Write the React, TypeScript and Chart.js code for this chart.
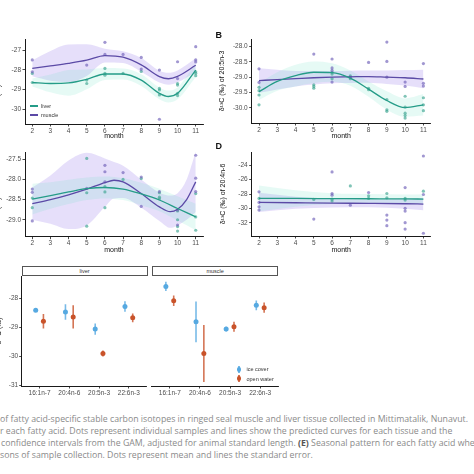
import React, { useEffect, useRef } from 'react';
import { Chart, registerables } from 'chart.js';

Chart.register(...registerables);

// ---------------- data ----------------
const MONTH_TICKS = [2, 3, 4, 5, 6, 7, 8, 9, 10, 11];

// Panel A (16:1n-7)
const monthsA = [2, 3, 4, 5, 6, 7, 8, 9, 9.5, 10, 11];
const muscleA = [-27.93, -27.8, -27.67, -27.51, -27.28, -27.36, -27.75, -28.34, -28.45, -28.33, -27.77];
const muscleBandA = [0.4, 0.75, 0.95, 0.8, 0.35, 0.3, 0.35, 0.3, 0.3, 0.3, 0.35];
const liverA = [-28.64, -28.69, -28.66, -28.48, -28.21, -28.21, -28.52, -29.19, -29.35, -29.19, -28.01];
const liverBandA = [0.2, 0.45, 0.65, 0.5, 0.3, 0.28, 0.3, 0.3, 0.3, 0.3, 0.35];
const muscleDotsA = [[2, -27.5], [2, -28.1], [5, -27.76], [6, -26.61], [6, -27.22], [7, -27.22], [8, -27.37], [8, -27.96], [9, -28.01], [9, -30.5], [10, -27.59], [10, -28.44], [11, -26.83], [11, -27.5], [11, -27.6]];
const liverDotsA = [[2, -28.18], [2, -28.64], [5, -28.52], [5, -28.69], [6, -27.93], [6, -28.18], [6, -28.27], [7, -28.18], [8, -28.08], [9, -28.94], [9, -29.02], [9, -29.27], [10, -28.69], [10, -28.77], [10, -29.19], [10, -29.3], [11, -28.1], [11, -28.18], [11, -28.3]];
const yTicksA = [-27, -28, -29, -30];

// Panel B (20:5n-3)
const monthsB = [2, 3, 4, 5, 6, 7, 8, 9, 10, 11];
const muscleB = [-29.11, -29.08, -29.05, -29.02, -29.0, -28.99, -28.98, -29.0, -29.02, -29.06];
const muscleBandB = [0.4, 0.32, 0.25, 0.22, 0.2, 0.2, 0.2, 0.22, 0.25, 0.3];
const liverB = [-29.47, -29.14, -28.95, -28.84, -28.85, -29.03, -29.39, -29.76, -29.99, -29.9];
const liverBandB = [0.27, 0.3, 0.35, 0.35, 0.3, 0.25, 0.25, 0.3, 0.3, 0.35];
const muscleDotsB = [[2, -28.73], [2, -29.17], [5, -28.25], [6, -28.41], [6, -28.7], [6, -28.78], [6, -29.16], [7, -29.0], [8, -28.52], [9, -27.86], [9, -28.49], [9, -29.0], [10, -29.16], [10, -29.3], [11, -28.56], [11, -29.2], [11, -29.29]];
const liverDotsB = [[2, -29.33], [2, -29.44], [2, -29.58], [2, -29.9], [5, -29.25], [5, -29.3], [5, -29.36], [6, -28.84], [6, -28.9], [6, -29.05], [7, -28.96], [7, -29.05], [8, -29.36], [8, -29.41], [9, -29.73], [9, -30.06], [9, -30.11], [10, -29.62], [10, -29.97], [10, -30.17], [10, -30.25], [10, -30.33], [11, -29.67], [11, -29.9], [11, -30.09]];
const yTicksB = [-28.0, -28.5, -29.0, -29.5, -30.0];

// Panel C (22:6n-3)
const muscleMonthsC = [2, 3, 4, 5, 6, 6.5, 7, 8, 9, 9.6, 10, 10.5, 11];
const muscleC = [-28.6, -28.5, -28.38, -28.24, -28.08, -28.02, -28.06, -28.35, -28.68, -28.8, -28.74, -28.5, -28.06];
const muscleBandC = [0.4, 0.6, 0.85, 0.9, 0.6, 0.45, 0.4, 0.35, 0.35, 0.4, 0.4, 0.5, 0.75];
const liverMonthsC = [2, 3, 4, 5, 6, 7, 8, 9, 10, 11];
const liverC = [-28.49, -28.4, -28.31, -28.23, -28.2, -28.24, -28.36, -28.51, -28.72, -28.93];
const liverBandC = [0.38, 0.33, 0.3, 0.28, 0.27, 0.27, 0.28, 0.28, 0.3, 0.33];
const muscleDotsC = [[2, -28.24], [2, -28.32], [2, -29.03], [5, -28.22], [6, -27.65], [6, -27.81], [6, -28.06], [7, -27.83], [8, -27.94], [8, -28.67], [9, -28.3], [10, -28.76], [10, -29.13], [11, -27.4], [11, -27.97], [11, -28.3]];
const liverDotsC = [[2, -28.46], [2, -28.7], [5, -27.48], [5, -28.33], [5, -29.16], [6, -28.18], [6, -28.31], [6, -28.7], [7, -28.0], [8, -27.98], [9, -28.33], [9, -28.44], [9, -28.48], [10, -28.78], [10, -29.0], [10, -29.17], [10, -29.28], [11, -28.35], [11, -28.93], [11, -29.26]];
const yTicksC = [-27.5, -28.0, -28.5, -29.0];

// Panel D (20:4n-6)
const monthsD = [2, 4, 6, 8, 10, 11];
const muscleD = [-29.17, -29.22, -29.27, -29.31, -29.36, -29.4];
const muscleBandD = [1.35, 0.85, 0.6, 0.55, 0.7, 0.85];
const liverD = [-28.6, -28.62, -28.64, -28.66, -28.68, -28.7];
const liverBandD = [1.8, 1.15, 0.75, 0.65, 0.6, 0.65];
const muscleDotsD = [[2, -27.7], [2, -29.17], [2, -29.78], [2, -30.24], [5, -31.49], [6, -24.93], [6, -27.93], [6, -28.16], [7, -29.55], [8, -27.79], [9, -30.93], [9, -31.63], [9, -32.41], [10, -27.1], [10, -30.0], [10, -30.38], [10, -32.0], [10, -32.88], [11, -22.71], [11, -28.07], [11, -33.47]];
const liverDotsD = [[2, -28.62], [5, -28.76], [6, -28.72], [6, -28.99], [7, -26.87], [8, -28.25], [8, -28.62], [9, -27.93], [9, -28.53], [10, -28.62], [10, -28.85], [11, -27.61]];
const yTicksD = [-24, -26, -28, -30, -32];

// Panel E (seasonal means ± SE)
const faCats = ['16:1n-7', '20:4n-6', '20:5n-3', '22:6n-3'];
const liverIceMean = [-28.42, -28.48, -29.07, -28.29];
const liverIceSE = [0.06, 0.27, 0.19, 0.18];
const liverOpenMean = [-28.8, -28.65, -29.91, -28.68];
const liverOpenSE = [0.25, 0.4, 0.1, 0.15];
const muscleIceMean = [-27.6, -28.82, -29.07, -28.25];
const muscleIceSE = [0.16, 0.7, 0.08, 0.17];
const muscleOpenMean = [-28.09, -29.91, -28.99, -28.33];
const muscleOpenSE = [0.18, 0.98, 0.17, 0.18];
const yTicksE = [-28, -29, -30, -31];

// ---------------- style ----------------
const FONT = '"Liberation Sans", Arial, Helvetica, sans-serif';
const TICK_COLOR = '#4d4d4d';
const AXIS_COLOR = '#1a1a1a';
const MUSCLE_LINE = '#5b4aa6';
const LIVER_LINE = '#259c88';
const MUSCLE_DOT = 'rgba(110,95,185,0.65)';
const LIVER_DOT = 'rgba(60,165,145,0.65)';
const MUSCLE_FILL = 'rgba(140,110,230,0.22)';
const LIVER_FILL = 'rgba(90,220,185,0.15)';
const ICE = '#56a9e1';
const OPEN = '#c9532a';
const CLEAR = 'rgba(0,0,0,0)';

Chart.defaults.font.family = FONT;

type Geo = {
  left: number; top: number; width: number; height: number;
  padTop: number; padRight: number; padLeft: number;
  yW: number; xH: number; yTitlePad: number; xTitlePad: number;
};

const axisCommon = () => ({
  grid: { display: true, drawOnChartArea: false, drawTicks: true, tickLength: 2.5, color: AXIS_COLOR, lineWidth: 0.8 },
  border: { display: true, color: AXIS_COLOR, width: 1 },
});

const bandData = (months: number[], c: number[], h: number[], s: number) => months.map((m, i) => ({ x: m, y: c[i] + s * h[i] }));
const curveData = (months: number[], c: number[]) => months.map((m, i) => ({ x: m, y: c[i] }));
const dotData = (pairs: number[][]) => pairs.map(([x, y]) => ({ x, y }));

function monthConfig(p: any, geo: Geo) {
  const smooth = { cubicInterpolationMode: 'monotone', pointRadius: 0, pointHoverRadius: 0 };
  return {
    type: 'line',
    data: {
      datasets: [
        { data: bandData(p.mMonths, p.muscle, p.mBand, 1), fill: '+1', backgroundColor: MUSCLE_FILL, borderColor: CLEAR, borderWidth: 0, order: 10, ...smooth },
        { data: bandData(p.mMonths, p.muscle, p.mBand, -1), fill: false, borderColor: CLEAR, borderWidth: 0, order: 10, ...smooth },
        { data: bandData(p.lMonths, p.liver, p.lBand, 1), fill: '+1', backgroundColor: LIVER_FILL, borderColor: CLEAR, borderWidth: 0, order: 9, ...smooth },
        { data: bandData(p.lMonths, p.liver, p.lBand, -1), fill: false, borderColor: CLEAR, borderWidth: 0, order: 9, ...smooth },
        { data: dotData(p.mDots), showLine: false, pointRadius: 1.6, pointBackgroundColor: MUSCLE_DOT, pointBorderColor: CLEAR, pointBorderWidth: 0, order: 5 },
        { data: dotData(p.lDots), showLine: false, pointRadius: 1.6, pointBackgroundColor: LIVER_DOT, pointBorderColor: CLEAR, pointBorderWidth: 0, order: 5 },
        { data: curveData(p.lMonths, p.liver), borderColor: LIVER_LINE, borderWidth: 1.3, fill: false, order: 1, ...smooth },
        { data: curveData(p.mMonths, p.muscle), borderColor: MUSCLE_LINE, borderWidth: 1.3, fill: false, order: 1, ...smooth },
      ],
    },
    options: {
      responsive: false, animation: false, events: [],
      layout: { padding: { top: geo.padTop, right: geo.padRight, left: geo.padLeft, bottom: 0 } },
      plugins: { legend: { display: false }, tooltip: { enabled: false } },
      scales: {
        x: {
          type: 'linear', min: 1.6, max: 11.4,
          afterBuildTicks: (s: any) => { s.ticks = MONTH_TICKS.map((v) => ({ value: v })); },
          afterFit: (s: any) => { s.height = geo.xH; },
          ticks: { font: { size: 6.5, family: FONT }, color: TICK_COLOR, padding: 0.5, maxRotation: 0, autoSkip: false },
          title: { display: true, text: 'month', font: { size: 7, family: FONT }, color: '#111', padding: { top: 0, bottom: geo.xTitlePad } },
          ...axisCommon(),
        },
        y: {
          type: 'linear', min: p.yMin, max: p.yMax,
          afterBuildTicks: (s: any) => { s.ticks = p.yTicks.map((v: number) => ({ value: v })); },
          afterFit: (s: any) => { s.width = geo.yW; },
          ticks: { font: { size: 6.5, family: FONT }, color: TICK_COLOR, padding: 1.5, callback: (v: any) => Number(v).toFixed(p.dec) },
          title: { display: true, text: p.title, font: { size: 7, family: FONT }, color: '#111', padding: { top: geo.yTitlePad, bottom: 0 } },
          ...axisCommon(),
        },
      },
    },
  };
}

function facetConfig(iceMean: number[], iceSE: number[], openMean: number[], openSE: number[], geo: Geo, showY: boolean) {
  const dodge = 0.13;
  const bars = (mean: number[], se: number[], off: number) => {
    const out: any[] = [];
    mean.forEach((m, i) => {
      out.push({ x: i + 1 + off, y: m - se[i] }, { x: i + 1 + off, y: m + se[i] }, { x: i + 1 + off, y: null });
    });
    return out;
  };
  const pts = (mean: number[], off: number) => mean.map((m, i) => ({ x: i + 1 + off, y: m }));
  return {
    type: 'line',
    data: {
      datasets: [
        { data: bars(iceMean, iceSE, -dodge), borderColor: 'rgba(86,169,225,0.8)', borderWidth: 1.6, pointRadius: 0, spanGaps: false, fill: false, order: 5 },
        { data: bars(openMean, openSE, dodge), borderColor: 'rgba(201,83,42,0.8)', borderWidth: 1.6, pointRadius: 0, spanGaps: false, fill: false, order: 5 },
        { data: pts(iceMean, -dodge), showLine: false, pointRadius: 2.5, pointBackgroundColor: ICE, pointBorderColor: CLEAR, pointBorderWidth: 0, order: 1 },
        { data: pts(openMean, dodge), showLine: false, pointRadius: 2.5, pointBackgroundColor: OPEN, pointBorderColor: CLEAR, pointBorderWidth: 0, order: 1 },
      ],
    },
    options: {
      responsive: false, animation: false, events: [],
      layout: { padding: { top: geo.padTop, right: geo.padRight, left: geo.padLeft, bottom: 0 } },
      plugins: { legend: { display: false }, tooltip: { enabled: false } },
      scales: {
        x: {
          type: 'linear', min: 0.4, max: 4.6,
          afterBuildTicks: (s: any) => { s.ticks = faCats.map((_, i) => ({ value: i + 1 })); },
          afterFit: (s: any) => { s.height = geo.xH; },
          ticks: { font: { size: 6.5, family: FONT }, color: TICK_COLOR, padding: 0.5, maxRotation: 0, autoSkip: false, callback: (v: any) => faCats[Math.round(Number(v)) - 1] },
          ...axisCommon(),
        },
        y: {
          type: 'linear', min: -31.03, max: -27.24, display: showY,
          afterBuildTicks: (s: any) => { s.ticks = yTicksE.map((v) => ({ value: v })); },
          afterFit: (s: any) => { s.width = geo.yW; },
          ticks: { font: { size: 6.5, family: FONT }, color: TICK_COLOR, padding: 1, callback: (v: any) => String(v) },
          title: { display: true, text: 'δ¹³C (‰)', font: { size: 7, family: FONT }, color: '#111', padding: { top: geo.yTitlePad, bottom: 0 } },
          ...axisCommon(),
        },
      },
    },
  };
}

function ChartBox({ geo, config }: { geo: Geo; config: any }) {
  const ref = useRef<HTMLCanvasElement>(null);
  useEffect(() => {
    const chart = new Chart(ref.current as HTMLCanvasElement, config);
    return () => chart.destroy();
  }, []);
  return (
    <canvas
      ref={ref}
      width={geo.width}
      height={geo.height}
      style={{ position: 'absolute', left: geo.left, top: geo.top, width: geo.width, height: geo.height }}
    />
  );
}

const geoA: Geo = { left: -12, top: 30, width: 220, height: 112, padTop: 9, padRight: 5, padLeft: 0, yW: 37, xH: 18, yTitlePad: 6.3, xTitlePad: 1.8 };
const geoB: Geo = { left: 205, top: 30, width: 230, height: 112, padTop: 9, padRight: 4.3, padLeft: 0, yW: 46.7, xH: 19, yTitlePad: 13.3, xTitlePad: 1.8 };
const geoC: Geo = { left: -12, top: 143, width: 220, height: 112, padTop: 9, padRight: 5, padLeft: 0, yW: 37, xH: 18.3, yTitlePad: 6.3, xTitlePad: 0.8 };
const geoD: Geo = { left: 205, top: 143, width: 230, height: 112, padTop: 9, padRight: 4.3, padLeft: 0, yW: 46.7, xH: 19, yTitlePad: 13.5, xTitlePad: 0.8 };
const geoE1: Geo = { left: -12, top: 266, width: 163, height: 130, padTop: 10, padRight: 4.3, padLeft: 0, yW: 33.7, xH: 10, yTitlePad: 6.5, xTitlePad: 0 };
const geoE2: Geo = { left: 147, top: 266, width: 136, height: 130, padTop: 10, padRight: 4.7, padLeft: 4.7, yW: 0, xH: 10, yTitlePad: 0, xTitlePad: 0 };

const cfgA = monthConfig({ mMonths: monthsA, muscle: muscleA, mBand: muscleBandA, lMonths: monthsA, liver: liverA, lBand: liverBandA, mDots: muscleDotsA, lDots: liverDotsA, yMin: -30.74, yMax: -26.44, yTicks: yTicksA, dec: 0, title: 'δ¹³C (‰) of 16:1n-7' }, geoA);
const cfgB = monthConfig({ mMonths: monthsB, muscle: muscleB, mBand: muscleBandB, lMonths: monthsB, liver: liverB, lBand: liverBandB, mDots: muscleDotsB, lDots: liverDotsB, yMin: -30.49, yMax: -27.76, yTicks: yTicksB, dec: 1, title: 'δ¹³C (‰) of 20:5n-3' }, geoB);
const cfgC = monthConfig({ mMonths: muscleMonthsC, muscle: muscleC, mBand: muscleBandC, lMonths: liverMonthsC, liver: liverC, lBand: liverBandC, mDots: muscleDotsC, lDots: liverDotsC, yMin: -29.42, yMax: -27.32, yTicks: yTicksC, dec: 1, title: 'δ¹³C (‰) of 22:6n-3' }, geoC);
const cfgD = monthConfig({ mMonths: monthsD, muscle: muscleD, mBand: muscleBandD, lMonths: monthsD, liver: liverD, lBand: liverBandD, mDots: muscleDotsD, lDots: liverDotsD, yMin: -33.85, yMax: -22.15, yTicks: yTicksD, dec: 0, title: 'δ¹³C (‰) of 20:4n-6' }, geoD);
const cfgE1 = facetConfig(liverIceMean, liverIceSE, liverOpenMean, liverOpenSE, geoE1, true);
const cfgE2 = facetConfig(muscleIceMean, muscleIceSE, muscleOpenMean, muscleOpenSE, geoE2, false);

const abs = (l: number, t: number, extra: any = {}) => ({ position: 'absolute' as const, left: l, top: t, ...extra });

function LineKey({ x, y, color, label }: { x: number; y: number; color: string; label: string }) {
  return (
    <>
      <div style={abs(x, y - 0.6, { width: 8, height: 1.3, background: color })} />
      <div style={abs(x + 2.6, y - 1.4, { width: 2.8, height: 2.8, borderRadius: '50%', background: color })} />
      <div style={abs(x + 11, y - 4, { font: `5.5px ${FONT}`, color: '#333', lineHeight: '8px', whiteSpace: 'nowrap' })}>{label}</div>
    </>
  );
}

function PointKey({ x, y, color, label }: { x: number; y: number; color: string; label: string }) {
  return (
    <>
      <div style={abs(x - 0.7, y - 3.5, { width: 1.4, height: 7, background: color, opacity: 0.8 })} />
      <div style={abs(x - 2.3, y - 2.3, { width: 4.6, height: 4.6, borderRadius: '50%', background: color })} />
      <div style={abs(x + 7.5, y - 4, { font: `5.5px ${FONT}`, color: '#333', lineHeight: '8px', whiteSpace: 'nowrap' })}>{label}</div>
    </>
  );
}

function Strip({ x, w, label }: { x: number; w: number; label: string }) {
  return (
    <div style={abs(x, 266, { width: w, height: 10, boxSizing: 'border-box', border: '1px solid #555', background: '#fff', font: `5.5px ${FONT}`, color: '#333', textAlign: 'center', lineHeight: '8px' })}>
      {label}
    </div>
  );
}

export default function App() {
  const cap = { font: '8.75px "Open Sans", "DejaVu Sans", sans-serif', color: '#8a8a8a', whiteSpace: 'nowrap' as const, height: 12, lineHeight: '12px' };
  return (
    <div style={{ position: 'absolute', left: 0, top: 0, width: 474, height: 474, overflow: 'hidden', background: '#fff' }}>
      <ChartBox geo={geoA} config={cfgA} />
      <ChartBox geo={geoB} config={cfgB} />
      <ChartBox geo={geoC} config={cfgC} />
      <ChartBox geo={geoD} config={cfgD} />
      <ChartBox geo={geoE1} config={cfgE1} />
      <ChartBox geo={geoE2} config={cfgE2} />

      <LineKey x={30} y={106} color={LIVER_LINE} label="liver" />
      <LineKey x={30} y={115} color={MUSCLE_LINE} label="muscle" />

      <PointKey x={239} y={369.3} color={ICE} label="ice cover" />
      <PointKey x={239} y={378.7} color={OPEN} label="open water" />

      <Strip x={21.5} w={126.2} label="liver" />
      <Strip x={151.7} w={126.8} label="muscle" />

      <div style={abs(215.5, 29.5, { font: `bold 9px ${FONT}`, color: '#111' })}>B</div>
      <div style={abs(215.5, 140.5, { font: `bold 9px ${FONT}`, color: '#111' })}>D</div>

      <div style={abs(0, 413, { width: 474, overflow: 'hidden' })}>
        <div style={{ ...cap, marginLeft: 0 }}>of fatty acid-specific stable carbon isotopes in ringed seal muscle and liver tissue collected in Mittimatalik, Nunavut.</div>
        <div style={{ ...cap, marginLeft: 0 }}>r each fatty acid. Dots represent individual samples and lines show the predicted curves for each tissue and the</div>
        <div style={{ ...cap, marginLeft: 1 }}>confidence intervals from the GAM, adjusted for animal standard length. <b style={{ color: '#555' }}>(E)</b> Seasonal pattern for each fatty acid when</div>
        <div style={{ ...cap, marginLeft: 0 }}>sons of sample collection. Dots represent mean and lines the standard error.</div>
      </div>
    </div>
  );
}
